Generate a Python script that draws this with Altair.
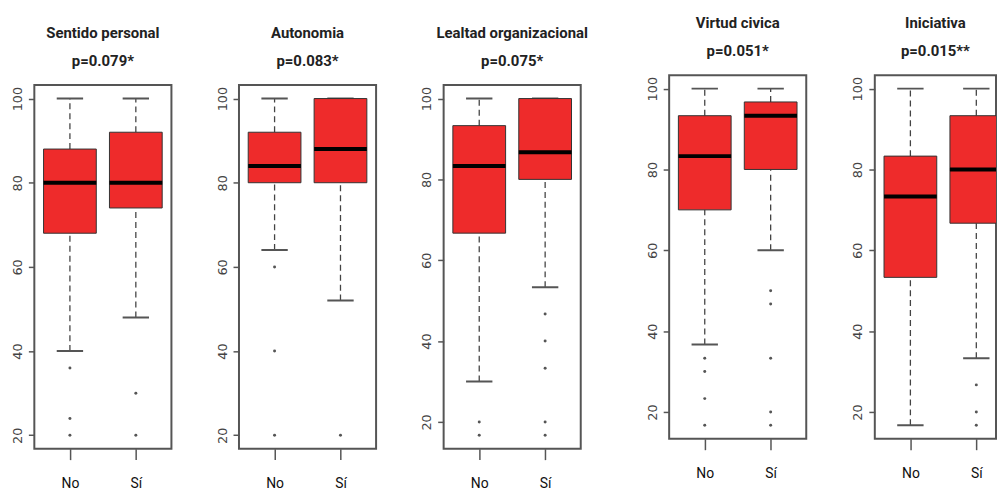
import altair as alt
import pandas as pd

panels = ["Sentido personal", "Autonomia", "Lealtad organizacional", "Virtud civica", "Iniciativa"]
pvals = ["p=0.079*", "p=0.083*", "p=0.075*", "p=0.051*", "p=0.015**"]
groups = ["No", "Sí"]

# one pair [No, Sí] per panel
whisker_low = [[40, 48], [64, 52], [30, 53.3], [36.7, 60], [16.7, 33.3]]
q1 = [[68, 74], [80, 80], [66.7, 80], [70, 80], [53.3, 66.7]]
median = [[80, 80], [84, 88], [83.3, 86.7], [83.3, 93.3], [73.3, 80]]
q3 = [[88, 92], [92, 100], [93.3, 100], [93.3, 96.7], [83.3, 93.3]]
whisker_high = [[100, 100], [100, 100], [100, 100], [100, 100], [100, 100]]
outliers = [
    [[36, 24, 20], [30, 20]],
    [[60, 40, 20], [20]],
    [[20, 16.7], [46.7, 40, 33.3, 20, 16.7]],
    [[33.3, 30, 23.3, 16.7], [50, 46.7, 33.3, 20, 16.7]],
    [[], [26.7, 20, 16.7]],
]
y_ticks = [20, 40, 60, 80, 100]

TFONT = "Roboto"
PH = 366
PX_PER_UNIT = 138 / 2.08   # R-style x range 0.46 .. 2.54 over a 138px panel


def panel(i, width=138):
    box_df = pd.DataFrame({
        "grupo": groups,
        "pos": [1, 2],
        "lo": whisker_low[i],
        "q1": q1[i],
        "med": median[i],
        "q3": q3[i],
        "hi": whisker_high[i],
    })
    rows = [{"grupo": g, "pos": j + 1, "v": v}
            for j, g in enumerate(groups) for v in outliers[i][j]]
    out_df = pd.DataFrame(rows, columns=["grupo", "pos", "v"])
    allv = whisker_low[i] + whisker_high[i] + [v for o in outliers[i] for v in o]
    vmin, vmax = min(allv), max(allv)
    ext = 0.04 * (vmax - vmin)
    yscale = alt.Scale(domain=[vmin - ext, vmax + ext], nice=False, zero=False)
    xscale = alt.Scale(domain=[0.46, 0.46 + width / PX_PER_UNIT], nice=False, zero=False)
    xaxis = alt.Axis(values=[1, 2],
                     labelExpr=f"datum.value == 1 ? '{groups[0]}' : '{groups[1]}'",
                     labelFont=TFONT, labelFontSize=14, labelColor="#111",
                     tickSize=11, tickColor="#555", tickWidth=1.5, labelPadding=17,
                     domain=False, grid=False, title=None)
    yaxis = alt.Axis(values=y_ticks, labelAngle=270, labelAlign="center",
                     labelBaseline="bottom", labelFont="DejaVu Sans", labelFontSize=13,
                     labelColor="#444", tickColor="#555", tickSize=6, tickWidth=1.5,
                     labelPadding=4, domain=False, grid=False, title=None)

    def X(f):
        return alt.X(f, scale=xscale, axis=xaxis, title=None)

    def Y(f):
        return alt.Y(f, scale=yscale, axis=yaxis, title=None)

    base = alt.Chart(box_df).transform_calculate(
        x0="datum.pos - 0.4", x1="datum.pos + 0.4",
        c0="datum.pos - 0.2", c1="datum.pos + 0.2")
    wh_up = base.mark_rule(strokeDash=[6, 4], color="#444", strokeWidth=1.3, clip=True).encode(
        x=X("pos:Q"), y=Y("q3:Q"), y2="hi:Q")
    wh_lo = base.mark_rule(strokeDash=[6, 4], color="#444", strokeWidth=1.3, clip=True).encode(
        x=X("pos:Q"), y=Y("lo:Q"), y2="q1:Q")
    cap_up = base.mark_rule(color="#555", strokeWidth=2, clip=True).encode(
        x=X("c0:Q"), x2="c1:Q", y=Y("hi:Q"))
    cap_lo = base.mark_rule(color="#555", strokeWidth=2, clip=True).encode(
        x=X("c0:Q"), x2="c1:Q", y=Y("lo:Q"))
    box = base.mark_rect(fill="#EE2B2B", stroke="#333", strokeWidth=1, clip=True).encode(
        x=X("x0:Q"), x2="x1:Q", y=Y("q1:Q"), y2="q3:Q")
    med = base.mark_rule(color="black", strokeWidth=4, clip=True).encode(
        x=X("x0:Q"), x2="x1:Q", y=Y("med:Q"))
    pts = alt.Chart(out_df).mark_circle(size=9, color="#555", opacity=1, clip=True).encode(
        x=X("pos:Q"), y=Y("v:Q"))
    return alt.layer(wh_up, wh_lo, cap_up, cap_lo, box, med, pts).properties(
        width=width, height=PH,
        title=alt.TitleParams(panels[i], subtitle=pvals[i],
                              fontSize=15, font=TFONT, fontWeight="bold", color="#222",
                              subtitleFontSize=15, subtitleFont=TFONT,
                              subtitleFontWeight="bold", subtitleColor="#222",
                              subtitlePadding=12.5, anchor="middle", offset=16.5),
        view=alt.ViewBackground(stroke="#555", strokeWidth=2),
    )


def spacer(h):
    return alt.Chart(pd.DataFrame({"s": [0]})).mark_rect(opacity=0).encode(
        x=alt.value(0), x2=alt.value(1), y=alt.value(0), y2=alt.value(h)
    ).properties(width=1, height=h, view=alt.ViewBackground(strokeWidth=0))


groupA = alt.hconcat(panel(0), panel(1), panel(2), spacing=68, bounds="flush")
groupB = alt.hconcat(panel(3), panel(4, width=122), spacing=69, bounds="flush")

colA = alt.vconcat(spacer(16), groupA, spacing=0)
colB = alt.vconcat(spacer(5.7), groupB, spacing=0)

chart = alt.hconcat(colA, colB, spacing=55).properties(
    padding={"left": 1.5, "top": 0, "right": 0, "bottom": 0}
).configure(background="white").configure_view(strokeWidth=0)

chart.save("out.html", embed_options={"renderer": "svg", "actions": False})
